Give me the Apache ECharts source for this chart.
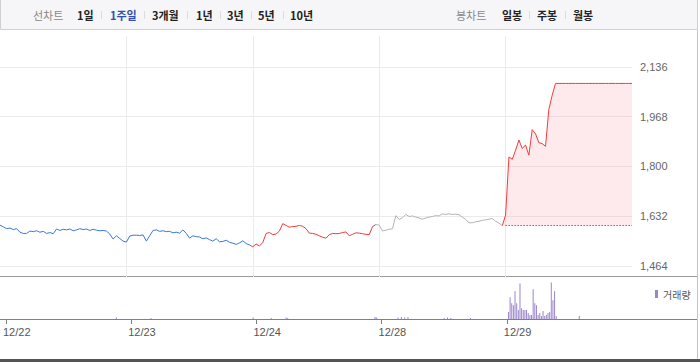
<!DOCTYPE html>
<html><head><meta charset="utf-8">
<script src="https://cdn.jsdelivr.net/npm/echarts@6/dist/echarts.min.js"></script>
<style>html,body{margin:0;padding:0;background:#fff}#c{width:700px;height:362px}</style>
</head><body><div id="c"></div>
<script>
// ---- data ----
const dates = ['12/22', '12/23', '12/24', '12/28', '12/29'];
const yTicks = [1464, 1632, 1800, 1968, 2136];
const prevClose = 1600;

const day1 = [1602,1596,1590,1592,1587,1590,1578,1574,1574,1582,1580,1583,1578,1581,1574,1577,1573,1589,1584,1588,1586,1589,1583,1586,1590,1587,1589,1584,1588,1585,1583,1584,1582,1572,1555,1566,1557,1548];
const day2 = [1545,1565,1568,1568,1567,1569,1548,1566,1584,1586,1581,1583,1580,1581,1576,1578,1575,1586,1574,1558,1566,1563,1562,1556,1559,1553,1548,1556,1546,1547,1551,1544,1541,1537,1542,1549,1540,1535];
const day3 = [1529,1538,1532,1543,1574,1577,1570,1572,1582,1607,1601,1595,1597,1598,1601,1598,1590,1575,1574,1571,1566,1561,1558,1570,1574,1573,1574,1577,1579,1566,1571,1576,1575,1573,1571,1570,1597,1604];
const day4 = [1602,1582,1585,1588,1590,1634,1621,1627,1638,1631,1633,1629,1626,1622,1626,1629,1631,1634,1633,1640,1638,1640,1638,1639,1637,1629,1621,1610,1610,1613,1615,1618,1620,1622,1624,1615,1609,1600];
const day5 = [1636,1832,1824,1855,1889,1861,1872,1838,1924,1910,1880,1877,1868,1992,2040,2080,2080,2080,2080,2080,2080,2080,2080,2080,2080,2080,2080,2080,2080,2080,2080,2080,2080,2080,2080,2080,2080,2080,2080];

const vol1 = [
0,0,0,0,0,0,0,0,0,0,0,0,0,0,0,0,0,0,0,
0,0,0,0,0,0,0,0,0,0,0,0,0,0,0,0,0,0,0,
0,0,0,0,0,0,0,0,0,0,0,0,0,0,0,0,0,0,0,
0,0,0,0,0,0,0,0,0,0,15,0,0,0,0,0,0,0,0];
const vol2 = [
0,0,0,0,0,0,0,0,0,0,0,0,10,0,0,0,0,0,0,
0,0,0,0,0,0,0,0,0,0,0,0,0,0,0,0,0,0,0,
0,0,0,0,0,0,0,0,0,0,0,0,0,0,0,0,0,0,0,
0,0,0,0,0,0,0,0,0,0,0,0,0,0,0,0,0,15,0];
const vol3 = [
0,0,0,0,0,0,0,0,0,10,0,0,0,0,0,0,0,0,15,
10,0,0,0,0,0,0,0,0,0,0,0,0,0,0,0,0,0,0,
0,0,0,0,0,0,0,0,0,0,0,0,0,0,0,0,0,0,0,
0,0,0,0,0,0,0,0,0,0,0,0,0,0,0,20,15,0,0];
const vol4 = [
0,0,0,0,0,0,0,0,0,0,15,0,20,0,15,0,20,0,0,
0,0,0,0,0,0,0,0,0,0,0,0,0,0,0,0,0,0,0,
10,0,15,0,10,0,0,0,0,0,0,0,0,0,0,0,10,0,0,
0,0,0,0,0,0,0,0,0,0,0,0,0,0,0,0,0,0,0];
const vol5 = [
0,70,220,160,140,280,160,90,360,110,90,90,90,60,40,40,300,160,140,
40,60,30,80,30,40,60,70,370,190,280,30,0,0,0,0,0,0,0,
0,0,0,0,0,0,30,0,0,0,0,0,0,0,0,0,0,0,0,
0,0,0,0,0,0,0,0,0,0,0,0,0,0,0,0,0,0,0,
0];

// ---- build ----
const PER = 38, VPER = 76;
const dayPrices = [day1, day2, day3, day4, day5];
const allPrices = [].concat(...dayPrices);
const priceCats = allPrices.map((_, i) => 'p' + i);
const allVol = [].concat(vol1, vol2, vol3, vol4, vol5);
const volCats = allVol.map((_, i) => 'v' + i);
const dayColors = ['#3a78dc', '#3a78dc', '#f23b3b', '#b4b4b4', '#f23b3b'];

function dayData(k) {
  const s = k * PER;
  const start = k === 0 ? 0 : s - 1;
  const end = s + dayPrices[k].length - 1;
  return allPrices.map((v, i) => (i >= start && i <= end) ? v : null);
}

const priceSeries = dayPrices.map((_, k) => {
  const s = {
    type: 'line', xAxisIndex: 0, yAxisIndex: 0, data: dayData(k),
    symbol: 'none', silent: true, z: 3,
    lineStyle: { width: 1, color: dayColors[k] }
  };
  if (k === 4) {
    s.areaStyle = { color: 'rgba(249,150,160,0.28)', origin: prevClose };
    s.markLine = {
      symbol: 'none', silent: true, label: { show: false }, z: 5,
      lineStyle: { type: [1, 2], color: '#333', width: 1, opacity: 1 },
      emphasis: { disabled: true },
      data: [[{ coord: [priceCats[4 * PER], prevClose] }, { coord: [priceCats[priceCats.length - 1], prevClose] }]]
    };
  }
  return s;
});

const numFont = 'Liberation Sans, Arial, sans-serif';
const krFont = 'Noto Sans CJK KR, sans-serif';
const isDayStart = (i) => i % VPER === 0 && i < 5 * VPER;

function tbText(x, text, color, weight) {
  return { type: 'text', x: x, y: 15, style: { text: text, fill: color, font: (weight || 'normal') + ' 11px ' + krFont, textVerticalAlign: 'middle' } };
}
function sep(x) {
  return { type: 'rect', shape: { x: x, y: 11, width: 1, height: 8 }, style: { fill: '#dcdcdc' } };
}

const chart = echarts.init(document.getElementById('c'), null, { renderer: 'svg' });
chart.setOption({
  animation: false,
  backgroundColor: '#fff',
  grid: [
    { left: 0, top: 36, width: 632, height: 241 },
    { left: 0, top: 277, width: 632, height: 42 }
  ],
  legend: {
    data: ['거래량'], left: 650, top: 284, icon: 'rect', itemWidth: 3, itemHeight: 8,
    textStyle: { color: '#555', fontSize: 10, fontFamily: krFont }, selectedMode: false
  },
  xAxis: [
    {
      type: 'category', gridIndex: 0, data: priceCats, boundaryGap: false,
      axisLine: { show: false }, axisTick: { show: false }, axisLabel: { show: false },
      splitLine: { show: true, interval: (i) => i % PER === 0 && i > 0 && i < 5 * PER, lineStyle: { color: '#ebebeb', width: 1 } }
    },
    {
      type: 'category', gridIndex: 1, data: volCats, boundaryGap: false,
      axisLine: { show: false },
      axisTick: { show: true, interval: (i) => isDayStart(i), length: 5, lineStyle: { color: '#808080' } },
      axisLabel: {
        interval: (i) => isDayStart(i), formatter: (v, i) => '{d|' + dates[i / VPER] + '}', align: 'left', margin: 7,
        rich: { d: { color: '#555', fontSize: 11, fontFamily: numFont, padding: [0, 0, 0, -3] } }
      },
      splitLine: { show: false }
    }
  ],
  yAxis: [
    {
      type: 'value', gridIndex: 0, position: 'right', min: 1427, max: 2240,
      axisLine: { show: false },
      axisTick: { show: false, customValues: yTicks },
      axisLabel: { customValues: yTicks, color: '#666', fontSize: 11, fontFamily: numFont, margin: 8, formatter: (v) => v.toLocaleString('en-US') },
      splitLine: { show: true, lineStyle: { color: '#ebebeb', width: 1 } }
    },
    { type: 'value', gridIndex: 1, min: 0, max: 425, show: false, splitLine: { show: false } }
  ],
  series: priceSeries.concat([{
    name: '거래량', type: 'bar', xAxisIndex: 1, yAxisIndex: 1, data: allVol, barWidth: 1,
    itemStyle: { color: '#9a85cc' }, silent: true
  }]),
  graphic: [
    { type: 'rect', shape: { x: 0.5, y: -1, width: 697, height: 30.5 }, style: { fill: '#f6f6f8', stroke: '#cfd0d4', lineWidth: 1 }, z: -1 },
    tbText(33, '선차트', '#888'),
    tbText(77, '1일', '#222', 'bold'), sep(101),
    tbText(110, '1주일', '#2f50ad', 'bold'), sep(144),
    tbText(152, '3개월', '#222', 'bold'), sep(187),
    tbText(196, '1년', '#222', 'bold'), sep(220),
    tbText(227, '3년', '#222', 'bold'), sep(251),
    tbText(258, '5년', '#222', 'bold'), sep(283),
    tbText(290, '10년', '#222', 'bold'),
    tbText(456, '봉차트', '#888'),
    tbText(502, '일봉', '#222', 'bold'), sep(529),
    tbText(537, '주봉', '#222', 'bold'), sep(565),
    tbText(573, '월봉', '#222', 'bold'),
    { type: 'line', shape: { x1: 697.5, y1: 30, x2: 697.5, y2: 360 }, style: { stroke: '#c4c4c4', lineWidth: 1 } },
    { type: 'line', shape: { x1: 0, y1: 276.5, x2: 697, y2: 276.5 }, style: { stroke: '#9a9a9a', lineWidth: 1 } },
    { type: 'line', shape: { x1: 0, y1: 319.5, x2: 697, y2: 319.5 }, style: { stroke: '#808080', lineWidth: 1 } },
    { type: 'line', shape: { x1: 0, y1: 360.5, x2: 700, y2: 360.5 }, style: { stroke: '#555', lineWidth: 3 } }
  ]
});
</script>
</body></html>
